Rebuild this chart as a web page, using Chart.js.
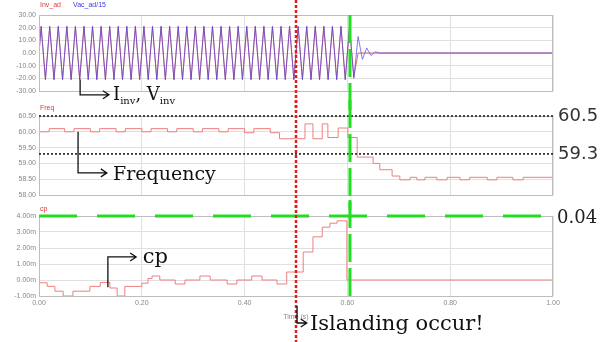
<!DOCTYPE html>
<html>
<head>
<meta charset="utf-8">
<script src="https://cdn.jsdelivr.net/npm/chart.js@4"></script>
<style>
  body { margin: 0; background: #fff; width: 616px; height: 342px; position: relative; overflow: hidden; }
  canvas { position: absolute; left: 0; }
</style>
</head>
<body>
<canvas id="wave" width="616" height="110" style="top:0"></canvas>
<canvas id="freq" width="616" height="110" style="top:100px"></canvas>
<canvas id="cp" width="616" height="142" style="top:200px"></canvas>
<script>
// 60 Hz traces: one peak value per half cycle
const halfCycle = 1 / 120;
const vacPeaks = [
  21,-21,21,-21,21,-21,21,-21,21,-21,21,-21,
  21,-21,21,-21,21,-21,21,-21,21,-21,21,-21,
  21,-21,21,-21,21,-21,21,-21,21,-21,21,-21,
  21,-21,21,-21,21,-21,21,-21,21,-21,21,-21,
  21,-21,21,-21,21,-21,21,-21,21,-21,21,-21,
  21,-21,21,-21,21,-21,21,-21,21,-21,21,-21,
  21,-20,13,-5,4,-2,1,0
];
const invPeaks = [
  21,-21,21,-21,21,-21,21,-21,21,-21,21,-21,
  21,-21,21,-21,21,-21,21,-21,21,-21,21,-21,
  21,-21,21,-21,21,-21,21,-21,21,-21,21,-21,
  21,-21,21,-21,21,-21,21,-21,21,-21,21,-21,
  21,-21,21,-21,21,-21,21,-21,21,-21,21,-21,
  21,-21,21,-21,21,-21,21,-21,21,-21,21,-21,
  21,-19,0
];

// frequency (stepped)
const freqT = [0, .02, .05, .068, .1, .118, .15, .168, .2, .218,
  .25, .268, .3, .318, .35, .368, .4, .418, .45, .468,
  .5175, .533, .551, .562, .582, .601, .619, .65, .663, .687,
  .702, .722, .735, .751, .774, .794, .819, .838, .872, .891,
  .922, .942, .975, 1];
const freqHz = [60.03, 60.0, 60.1, 60.0, 60.1, 60.0, 60.1, 60.0, 60.1, 60.0,
  60.1, 60.0, 60.1, 60.0, 60.1, 60.0, 60.1, 59.97, 60.1, 59.97,
  59.78, 60.25, 59.78, 60.25, 59.82, 60.12, 59.82, 59.2, 59.0, 58.8,
  58.6, 58.48, 58.56, 58.48, 58.56, 58.48, 58.56, 58.48, 58.56, 58.48,
  58.56, 58.48, 58.56, 58.56];

// cp in milli units (stepped)
const cpT = [0, .016, .031, .047, .066, .099, .119, .138, .152, .167,
  .2, .212, .22, .235, .265, .284, .313, .333, .366, .385,
  .414, .434, .463, .482, .514, .533, .551, .566, .58, .599,
  .615, 1];
const cpMilli = [0, -0.17, -0.4, -0.7, -1.0, -0.7, -0.4, -0.15, -0.5, -1.0,
  -0.4, -0.2, 0.1, 0.25, 0, -0.25, 0, 0.25, 0, -0.25,
  0, 0.25, 0, -0.25, 0.5, 1.75, 2.7, 3.3, 3.55, 3.7,
  0, 0];

const islandT = 0.5, tripT = 0.605;
const ofpHz = 60.5, ufpHz = 59.3, cpLimit = 4;

const tickFont = { family: 'Liberation Sans', size: 7 };
const serif = '"DejaVu Serif"';

const wavePts = peaks => [{ x: 0, y: 0 }, ...peaks.map((v, k) => ({ x: (k + 0.5) * halfCycle, y: v })), { x: 1, y: 0 }];
const pairs = (ts, vs) => ts.map((t, i) => ({ x: t, y: vs[i] }));

function line(ctx, x0, y0, x1, y1) {
  ctx.beginPath(); ctx.moveTo(x0, y0); ctx.lineTo(x1, y1); ctx.stroke();
}

function arrow(ctx, pts) {
  ctx.save();
  ctx.strokeStyle = '#111'; ctx.lineWidth = 1.3; ctx.setLineDash([]);
  ctx.beginPath();
  ctx.moveTo(pts[0][0], pts[0][1]);
  pts.slice(1).forEach(p => ctx.lineTo(p[0], p[1]));
  const [ex, ey] = pts[pts.length - 1];
  ctx.moveTo(ex - 6, ey - 4); ctx.lineTo(ex, ey); ctx.lineTo(ex - 6, ey + 4);
  ctx.stroke();
  ctx.restore();
}

function richText(ctx, x, y, parts, size) {
  ctx.fillStyle = '#111'; ctx.textBaseline = 'alphabetic'; ctx.textAlign = 'left';
  parts.forEach(([s, sub]) => {
    ctx.font = (sub ? Math.round(size * 0.55) : size) + 'px ' + serif;
    ctx.fillText(s, x, sub ? y + 4 : y);
    x += ctx.measureText(s).width;
  });
}

function markers(chart, ctx, gTop, gBottom) {
  const x = chart.scales.x;
  const xr = x.getPixelForValue(islandT), xg = x.getPixelForValue(tripT);
  ctx.lineWidth = 3; ctx.strokeStyle = '#22dd22'; ctx.setLineDash([28, 6]);
  line(ctx, xg, gTop, xg, gBottom);
  ctx.lineWidth = 2.5; ctx.strokeStyle = '#e51b1b'; ctx.setLineDash([3, 2]);
  line(ctx, xr, 0, xr, chart.height);
  ctx.setLineDash([]);
}

function labels(ctx, a, items, dy) {
  ctx.font = '7px "Liberation Sans"'; ctx.textBaseline = 'middle'; ctx.textAlign = 'left';
  let x = a.left + 1;
  items.forEach(([t, c]) => { ctx.fillStyle = c; ctx.fillText(t, x, a.top - dy); x += ctx.measureText(t).width + 12; });
}

function overlay(draw) {
  return {
    id: 'overlay',
    afterDatasetsDraw(chart) {
      const { ctx, chartArea: a } = chart;
      ctx.save();
      ctx.strokeStyle = '#bdbdbd'; ctx.lineWidth = 1;
      ctx.strokeRect(a.left + 0.5, a.top + 0.5, a.right - a.left - 1, a.bottom - a.top);
      draw(chart, ctx, a, chart.scales.x, chart.scales.y);
      ctx.restore();
    }
  };
}

function makeChart(id, datasets, y, o) {
  return new Chart(document.getElementById(id), {
    type: 'line',
    data: { datasets },
    options: {
      responsive: false, animation: false, events: [],
      layout: { padding: o.padding },
      elements: { point: { radius: 0 }, line: { borderWidth: 1, tension: 0 } },
      plugins: { legend: { display: false }, tooltip: { enabled: false } },
      scales: {
        x: {
          type: 'linear', min: 0, max: 1,
          grid: { color: '#e0e0e0', drawTicks: false },
          border: { display: false },
          ticks: { stepSize: 0.2, display: !!o.showX, font: tickFont, color: '#888', padding: 3, maxRotation: 0, callback: v => v.toFixed(2) },
          title: { display: !!o.showX, text: 'Time (s)', font: tickFont, color: '#888', padding: { top: 0, bottom: 5 } },
          afterFit: s => { s.height = o.showX ? 30 : 0; }
        },
        y: {
          min: y.min, max: y.max,
          grid: { color: '#e0e0e0', drawTicks: false },
          border: { display: false },
          ticks: { stepSize: y.step, font: tickFont, color: '#888', padding: 3, callback: y.fmt },
          afterFit: s => { s.width = 39; }
        }
      }
    },
    plugins: [overlay(o.draw)]
  });
}

makeChart('wave', [
  { data: wavePts(vacPeaks), borderColor: 'rgba(80,70,225,0.7)' },
  { data: wavePts(invPeaks), borderColor: '#e06a6a' }
], { min: -30, max: 30, step: 10, fmt: v => v.toFixed(2) }, {
  padding: { top: 15, bottom: 19, left: 0, right: 63 },
  draw(chart, ctx, a, x, y) {
    markers(chart, ctx, a.top, chart.height);
    labels(ctx, a, [['Inv_ad', '#e03a3a'], ['Vac_ad/15', '#3a3ae0']], 10);
    const x0 = x.getPixelForValue(0.08), yb = y.getPixelForValue(-33);
    arrow(ctx, [[x0, y.getPixelForValue(-21)], [x0, yb], [x.getPixelForValue(0.136), yb]]);
    richText(ctx, x.getPixelForValue(0.144), yb + 5, [['I'], ['inv', 1], [', V'], ['inv', 1]], 18);
  }
});

makeChart('freq', [
  { data: pairs(freqT, freqHz), borderColor: '#ef7f7f', stepped: 'after' }
], { min: 58, max: 60.5, step: 0.5, fmt: v => v.toFixed(2) }, {
  padding: { top: 16, bottom: 15, left: 0, right: 63 },
  draw(chart, ctx, a, x, y) {
    ctx.strokeStyle = '#111'; ctx.lineWidth = 1.5; ctx.setLineDash([2, 2]);
    ctx.font = '18px "DejaVu Sans"'; ctx.fillStyle = '#333'; ctx.textBaseline = 'middle'; ctx.textAlign = 'left';
    [ofpHz, ufpHz].forEach(v => {
      const py = y.getPixelForValue(v);
      line(ctx, a.left, py, a.right, py);
      ctx.fillText(v.toFixed(1), a.right + 5, py);
    });
    ctx.setLineDash([]);
    markers(chart, ctx, 0, chart.height);
    labels(ctx, a, [['Freq', '#e03a3a']], 8);
    const x0 = x.getPixelForValue(0.076), yb = y.getPixelForValue(58.7);
    arrow(ctx, [[x0, y.getPixelForValue(60.0)], [x0, yb], [x.getPixelForValue(0.132), yb]]);
    richText(ctx, x.getPixelForValue(0.144), yb + 7, [['Frequency']], 19);
  }
});

makeChart('cp', [
  { data: pairs(cpT, cpMilli), borderColor: '#ef7f7f', stepped: 'after' }
], { min: -1, max: 4, step: 1, fmt: v => v.toFixed(2) + 'm' }, {
  showX: true,
  padding: { top: 16, bottom: 16, left: 0, right: 63 },
  draw(chart, ctx, a, x, y) {
    const py = y.getPixelForValue(cpLimit);
    ctx.strokeStyle = '#22dd22'; ctx.lineWidth = 3; ctx.setLineDash([38, 20]);
    line(ctx, a.left, py, a.right, py);
    ctx.setLineDash([]);
    ctx.font = '18px ' + serif; ctx.fillStyle = '#222'; ctx.textBaseline = 'middle'; ctx.textAlign = 'left';
    ctx.fillText((cpLimit / 100).toFixed(2), a.right + 4, py + 2);
    markers(chart, ctx, 0, a.bottom + 4);
    labels(ctx, a, [['cp', '#e03a3a']], 7);
    const x0 = x.getPixelForValue(0.134), yt = y.getPixelForValue(1.44);
    arrow(ctx, [[x0, y.getPixelForValue(-0.45)], [x0, yt], [x.getPixelForValue(0.189), yt]]);
    richText(ctx, x.getPixelForValue(0.202), yt + 6, [['cp']], 21);
    const xi = x.getPixelForValue(0.502), yi = a.bottom + 27;
    arrow(ctx, [[xi, a.bottom + 10], [xi, yi], [x.getPixelForValue(0.521), yi]]);
    richText(ctx, x.getPixelForValue(0.527), yi + 7, [['Islanding occur!']], 21);
  }
});
</script>
</body>
</html>
